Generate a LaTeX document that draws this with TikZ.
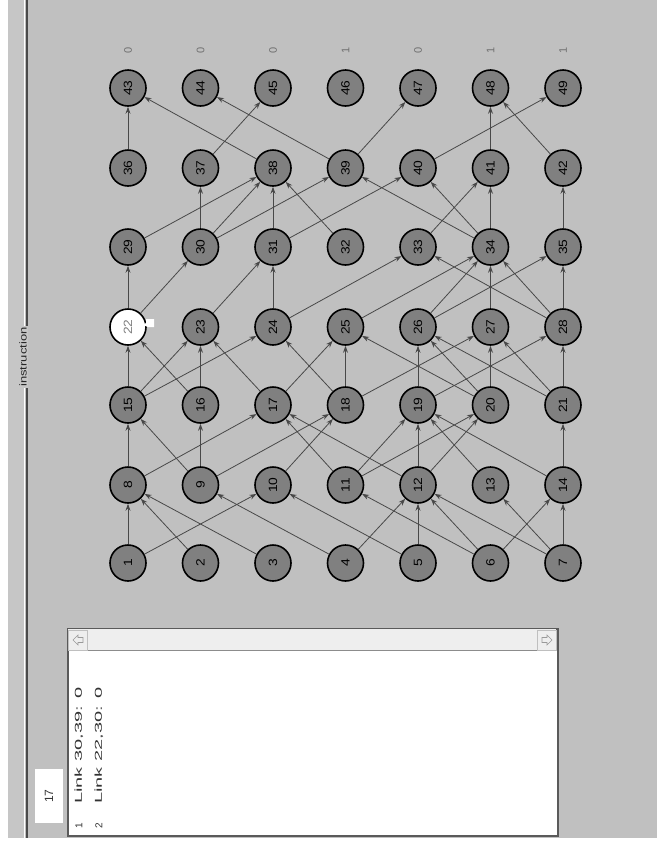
\documentclass[tikz,border=0pt]{standalone}
\usepackage{graphicx}
\usepackage{fontspec}
\setmainfont{Liberation Sans}
\usetikzlibrary{arrows.meta}
\definecolor{bg}{HTML}{C0C0C0}
\definecolor{stripgray}{HTML}{C6C6C6}
\definecolor{darkline}{HTML}{4A4A4A}
\definecolor{ndgray}{HTML}{808080}
\definecolor{edgegray}{HTML}{484848}
\definecolor{numgray}{HTML}{707070}
\definecolor{scrollgray}{HTML}{EEEEEE}
\definecolor{panelborder}{HTML}{5A5A5A}
\newcommand\ndf{\fontsize{12}{12}\selectfont}
\newcommand\smf{\fontsize{10}{10}\selectfont}
\tikzset{
  nd/.style={circle, draw=black, line width=1.6pt, fill=ndgray, minimum size=36pt,
    inner sep=0pt, font=\ndf, rotate=90},
  ln/.style={draw=edgegray, line width=0.8pt, -{Stealth[length=7pt,width=5pt]}},
  topnum/.style={rotate=90, text=numgray, font=\fontsize{11}{11}\selectfont, inner sep=0pt},
  listtxt/.style={rotate=90, anchor=west, inner sep=0pt, font=\smf, text=black!80}
}
\begin{document}
\begin{tikzpicture}[x=1pt,y=1pt]
\useasboundingbox (0,0) rectangle (657,-852);
\fill[white] (0,0) rectangle (657,-852);
\fill[bg] (8,0) rectangle (657,-838);
\fill[stripgray] (8,0) rectangle (24,-838);
\draw[white, line width=1pt] (24.5,0) -- (24.5,-838);
\draw[darkline, line width=2pt] (27,0) -- (27,-838);
\node[rotate=90, fill=stripgray, inner sep=1.5pt, font=\fontsize{10}{10}\selectfont, text=black!85]
  (title) at (23,-357) {\scalebox{1.3}[1]{instruction}};

% graph nodes
\foreach \l/\y in {0/563,1/485,2/405,3/327,4/247,5/168,6/88} {
  \foreach \c in {0,...,6} {
    \pgfmathtruncatemacro\n{7*\l+\c+1}
    \ifnum\n=22
      \node[nd, fill=white, text=gray] (n\n) at ({128+72.5*\c}, -\y) {\scalebox{1.15}[1]{\n}};
    \else
      \node[nd] (n\n) at ({128+72.5*\c}, -\y) {\scalebox{1.15}[1]{\n}};
    \fi
  }
}

% edges
\foreach \a/\b in {1/8,1/10,2/8,3/8,4/9,4/12,5/10,5/12,6/11,6/12,6/14,7/12,7/13,7/14,
  8/15,8/17,9/15,9/16,9/18,10/18,11/17,11/19,11/20,12/17,12/19,12/20,13/19,14/19,14/21,
  15/22,15/23,15/24,16/22,16/23,17/23,17/25,18/24,18/25,18/27,19/26,19/28,20/25,20/26,20/27,21/26,21/27,21/28,
  22/29,22/30,23/31,24/31,24/33,25/34,26/34,26/35,27/34,28/33,28/34,28/35,
  29/38,30/37,30/38,30/39,31/38,31/40,32/38,33/41,34/39,34/40,34/41,35/42,
  36/43,37/45,38/43,39/44,39/47,40/49,41/48,42/48}
  \draw[ln] (n\a) -- (n\b);

% cursor mark near node 22
\fill[white] (146,-319) -- (154,-319) -- (154,-327) -- (148,-327) -- (143,-325) -- (146,-323) -- cycle;

% output values
\foreach \c/\v in {0/0,1/0,2/0,3/1,4/0,5/1,6/1}
  \node[topnum] (v\c) at ({128+72.5*\c}, -50) {\v};

% bottom panel
\node[draw=panelborder, line width=1.5pt, fill=white, minimum width=490pt, minimum height=207pt,
  inner sep=0pt, anchor=north west] (panel) at (67,-628) {};
\fill[scrollgray] (68,-629) rectangle (556,-650);
\draw[black!45, line width=0.8pt] (68,-650) -- (556,-650);
\node[draw=black!25, fill=scrollgray, minimum width=19pt, minimum height=20pt, inner sep=0pt] (bl) at (78,-640) {};
\node[draw=black!25, fill=scrollgray, minimum width=19pt, minimum height=20pt, inner sep=0pt] (br) at (547,-640) {};
\draw[black!40, line width=0.6pt] (73,-640) -- (78,-635) -- (78,-637.5) -- (83,-637.5) -- (83,-642.5) -- (78,-642.5) -- (78,-645) -- cycle;
\draw[black!40, line width=0.6pt] (552,-640) -- (547,-635) -- (547,-637.5) -- (542,-637.5) -- (542,-642.5) -- (547,-642.5) -- (547,-645) -- cycle;

\node[fill=white, rotate=90, minimum width=54pt, minimum height=28pt, inner sep=0pt,
  font=\fontsize{12}{12}\selectfont, text=black!80] (stepbox) at (49,-796) {17};

\node[listtxt] (i1) at (79,-829) {1};
\node[listtxt] (t1) at (79,-804) {\scalebox{2}[1]{Link 30,39: 0}};
\node[listtxt] (i2) at (99,-829) {2};
\node[listtxt] (t2) at (99,-804) {\scalebox{2}[1]{Link 22,30: 0}};
\end{tikzpicture}
\end{document}
